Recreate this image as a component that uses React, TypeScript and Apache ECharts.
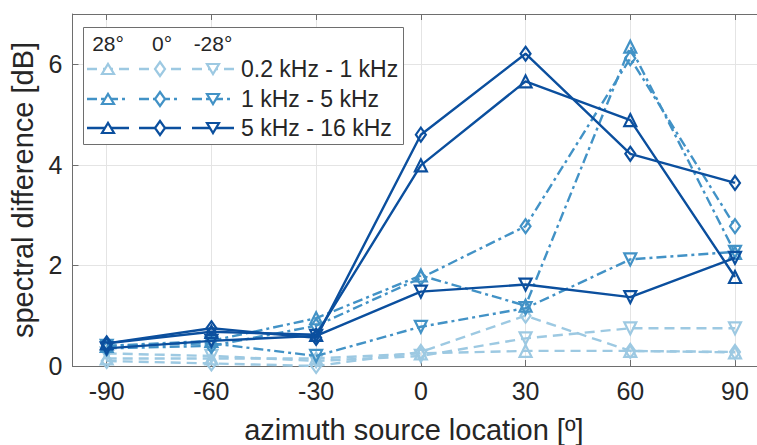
import React, { useEffect, useRef } from 'react';
import * as echarts from 'echarts';

const AZIMUTH = [-90, -60, -30, 0, 30, 60, 90];
const Y_TICKS = [0, 2, 4, 6];
const BANDS = ['0.2 kHz - 1 kHz', '1 kHz - 5 kHz', '5 kHz - 16 kHz'];
const ELEVATIONS = ['28°', '0°', '-28°'];

// 0.2 kHz - 1 kHz
const LOW_28 = [0.15, 0.15, 0.15, 0.25, 0.3, 0.3, 0.27];
const LOW_0 = [0.1, 0.05, 0.0, 0.28, 1.0, 0.3, 0.28];
const LOW_M28 = [0.25, 0.2, 0.1, 0.2, 0.55, 0.75, 0.75];
// 1 kHz - 5 kHz
const MID_28 = [0.4, 0.5, 0.95, 1.8, 1.2, 6.35, 2.25];
const MID_0 = [0.35, 0.4, 0.8, 1.75, 2.78, 6.12, 2.78];
const MID_M28 = [0.4, 0.45, 0.2, 0.78, 1.15, 2.12, 2.27];
// 5 kHz - 16 kHz
const HIGH_28 = [0.45, 0.68, 0.62, 3.99, 5.66, 4.89, 1.77];
const HIGH_0 = [0.45, 0.75, 0.56, 4.6, 6.21, 4.22, 3.64];
const HIGH_M28 = [0.35, 0.5, 0.6, 1.48, 1.62, 1.37, 2.15];

const DATA = [
  [LOW_28, LOW_0, LOW_M28],
  [MID_28, MID_0, MID_M28],
  [HIGH_28, HIGH_0, HIGH_M28],
];

const COLORS = ['#9dc9e2', '#4292c6', '#0b4f9e'];
const DASHES: any[] = [[10, 6], [10, 4, 3, 4], 'solid'];
const FONT = '"Liberation Sans", Arial, Helvetica, sans-serif';
const TEXT = '#262626';
const FRAME = '#6e6e6e';
const GRIDC = '#e4e4e4';

function symbolFor(e: number) {
  if (e === 0) return { symbol: 'triangle', symbolSize: 12, symbolRotate: 0 };
  if (e === 1) return { symbol: 'diamond', symbolSize: [10, 14], symbolRotate: 0 };
  return { symbol: 'triangle', symbolSize: 12, symbolRotate: 180 };
}

function markerPolygon(e: number, cx: number, cy: number) {
  if (e === 0) return [[cx - 6, cy + 5], [cx + 6, cy + 5], [cx, cy - 5]];
  if (e === 1) return [[cx, cy - 7], [cx + 5, cy], [cx, cy + 7], [cx - 5, cy]];
  return [[cx - 6, cy - 5], [cx + 6, cy - 5], [cx, cy + 5]];
}

export default function App() {
  const ref = useRef<HTMLDivElement>(null);
  useEffect(() => {
    const chart = echarts.init(ref.current!, null, { renderer: 'svg' });

    const series: any[] = [];
    for (let b = 0; b < 3; b++) {
      for (let e = 0; e < 3; e++) {
        const vals = DATA[b][e];
        series.push({
          type: 'line',
          name: `${BANDS[b]} ${ELEVATIONS[e]}`,
          xAxisIndex: 2,
          yAxisIndex: 1,
          data: AZIMUTH.map((a, i) => [a, vals[i]]),
          ...symbolFor(e),
          showAllSymbol: true,
          silent: true,
          z: 2 + b,
          lineStyle: { color: COLORS[b], width: 2.4, type: DASHES[b] },
          itemStyle: { color: 'rgba(255,255,255,0)', borderColor: COLORS[b], borderWidth: 2.2 },
          emphasis: { disabled: true },
        });
      }
    }

    // legend graphic
    const lg: any[] = [];
    lg.push({
      type: 'rect',
      shape: { x: 83.5, y: 27.5, width: 320, height: 117 },
      style: { fill: '#fff', stroke: FRAME, lineWidth: 1 },
      z: 100,
    });
    const colCenters = [108, 160, 213];
    const colHalf = 21;
    const rowY = [69, 99, 128];
    ELEVATIONS.forEach((t, i) => {
      lg.push({
        type: 'text',
        x: colCenters[i] + (i === 1 ? 2 : 0),
        y: 43,
        style: { text: t, font: `21px ${FONT}`, fill: TEXT, align: 'center', verticalAlign: 'middle' },
        z: 101,
      });
    });
    for (let b = 0; b < 3; b++) {
      for (let e = 0; e < 3; e++) {
        const cx = colCenters[e];
        const cy = rowY[b];
        lg.push({
          type: 'line',
          shape: { x1: cx - colHalf, y1: cy, x2: cx + colHalf, y2: cy },
          style: { stroke: COLORS[b], lineWidth: 2.4, lineDash: Array.isArray(DASHES[b]) ? DASHES[b] : null },
          z: 101,
        });
        lg.push({
          type: 'polygon',
          shape: { points: markerPolygon(e, cx, cy) },
          style: { fill: '#fff', stroke: COLORS[b], lineWidth: 2.2 },
          z: 102,
        });
      }
      lg.push({
        type: 'text',
        x: 241,
        y: rowY[b],
        style: { text: BANDS[b], font: `23px ${FONT}`, fill: TEXT, align: 'left', verticalAlign: 'middle' },
        z: 101,
      });
    }

    const option: any = {
      animation: false,
      backgroundColor: '#ffffff',
      textStyle: { fontFamily: FONT, color: TEXT },
      grid: [
        { left: 72.5, top: 14, width: 698, height: 352, outerBoundsMode: 'none', containLabel: false },
        { left: 106.7, top: 14, width: 628.3, height: 352, outerBoundsMode: 'none', containLabel: false },
      ],
      xAxis: [
        {
          gridIndex: 0, type: 'value', min: -100, max: 100, position: 'bottom',
          axisLine: { show: true, onZero: false, lineStyle: { color: FRAME, width: 1 } },
          axisTick: { show: false }, axisLabel: { show: false }, splitLine: { show: false },
        },
        {
          gridIndex: 0, type: 'value', min: -100, max: 100, position: 'top',
          axisLine: { show: true, onZero: false, lineStyle: { color: FRAME, width: 1 } },
          axisTick: { show: false }, axisLabel: { show: false }, splitLine: { show: false },
        },
        {
          gridIndex: 1, type: 'value', min: -90, max: 90, interval: 30, position: 'bottom',
          axisLine: { show: false, onZero: false },
          axisTick: { show: true, inside: true, length: 6, lineStyle: { color: FRAME } },
          axisLabel: { show: true, fontSize: 25, color: TEXT, fontFamily: FONT, margin: 12 },
          splitLine: { show: true, lineStyle: { color: GRIDC, width: 1 } },
          name: 'azimuth source location [º]',
          nameLocation: 'middle',
          nameGap: 49,
          nameTextStyle: { fontSize: 29, color: TEXT, fontFamily: FONT, padding: [0, 14, 0, 0] },
        },
        {
          gridIndex: 1, type: 'value', min: -90, max: 90, interval: 30, position: 'top',
          axisLine: { show: false, onZero: false },
          axisTick: { show: true, inside: true, length: 6, lineStyle: { color: FRAME } },
          axisLabel: { show: false }, splitLine: { show: false },
        },
      ],
      yAxis: [
        {
          gridIndex: 0, type: 'value', min: 0, max: 7, interval: 2, position: 'left',
          axisLine: { show: true, onZero: false, lineStyle: { color: FRAME, width: 1 } },
          axisTick: { show: true, inside: true, length: 6, lineStyle: { color: FRAME } },
          axisLabel: {
            show: true, fontSize: 25, color: TEXT, fontFamily: FONT, margin: 10,
            formatter: (v: number) => (Y_TICKS.includes(v) ? String(v) : ''),
          },
          splitLine: { show: true, lineStyle: { color: GRIDC, width: 1 } },
          name: 'spectral difference [dB]',
          nameLocation: 'middle',
          nameGap: 33,
          nameTextStyle: { fontSize: 29, color: TEXT, fontFamily: FONT },
        },
        {
          gridIndex: 1, type: 'value', min: 0, max: 7, interval: 2, position: 'left',
          axisLine: { show: false, onZero: false }, axisTick: { show: false }, axisLabel: { show: false },
          splitLine: { show: false },
        },
      ],
      series,
      graphic: lg,
    };

    chart.setOption(option);
    return () => chart.dispose();
  }, []);
  return <div ref={ref} style={{ position: 'fixed', left: 0, top: 0, width: 757, height: 445 }} />;
}
